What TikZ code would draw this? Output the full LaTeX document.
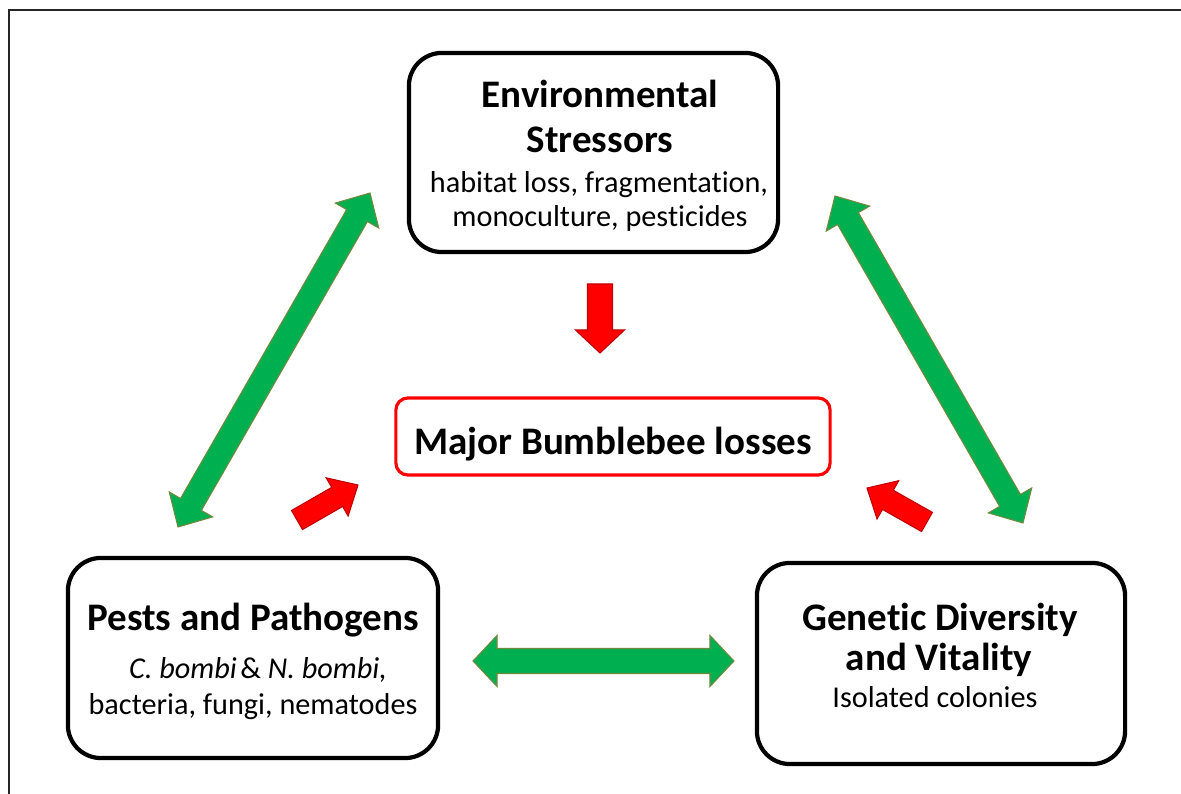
\documentclass[tikz,border=0pt]{standalone}
\usepackage{fontspec}
\setmainfont{Carlito}[Ligatures={NoCommon}]
\usetikzlibrary{calc}
\definecolor{pgreen}{HTML}{00B050}
\definecolor{pgreenline}{HTML}{71893F}
\definecolor{pred}{HTML}{FF0000}
\definecolor{predline}{HTML}{C00000}
% #1 style, #2 tip A, #3 tip B, #4 shaft half width, #5 head half width, #6 head length
\newcommand\dblarrow[6]{%
  \filldraw[#1] (#2)
   -- ($(#2)!#6!(#3)!#5!90:(#3)$)
   -- ($(#2)!#6!(#3)!#4!90:(#3)$)
   -- ($(#3)!#6!(#2)!#4!90:(#3)$)
   -- ($(#3)!#6!(#2)!#5!90:(#3)$)
   -- (#3)
   -- ($(#3)!#6!(#2)!#5!-90:(#3)$)
   -- ($(#3)!#6!(#2)!#4!-90:(#3)$)
   -- ($(#2)!#6!(#3)!#4!-90:(#3)$)
   -- ($(#2)!#6!(#3)!#5!-90:(#3)$)
   -- cycle;}
% #1 style, #2 tail, #3 tip, #4 shaft half width, #5 head half width, #6 head length
\newcommand\sglarrow[6]{%
  \filldraw[#1] ($(#2)!#4!90:(#3)$)
   -- ($(#3)!#6!(#2)!#4!90:(#3)$)
   -- ($(#3)!#6!(#2)!#5!90:(#3)$)
   -- (#3)
   -- ($(#3)!#6!(#2)!#5!-90:(#3)$)
   -- ($(#3)!#6!(#2)!#4!-90:(#3)$)
   -- ($(#2)!#4!-90:(#3)$)
   -- cycle;}
\tikzset{
  box/.style={draw=black, line width=1.2pt, rounded corners=0.33cm, fill=white,
              inner sep=0pt, outer sep=0pt},
  mainbox/.style={draw=pred, line width=0.9pt, rounded corners=0.12cm, fill=white,
              inner sep=0pt, outer sep=0pt},
  ttl/.style={anchor=base, inner sep=0pt, font=\fontsize{11.1pt}{13pt}\selectfont\bfseries},
  sub/.style={anchor=base, inner sep=0pt, font=\fontsize{8.6pt}{10pt}\selectfont},
  garrow/.style={fill=pgreen, draw=pgreenline, line width=0.3pt},
  rarrow/.style={fill=pred, draw=predline, line width=0.3pt},
}
\begin{document}
\begin{tikzpicture}[x=0.01cm, y=-0.01cm]
\useasboundingbox (0,0) rectangle (1181,794);
\draw[line width=0.6pt, black!85] (1200,10) -- (9,10) -- (9,810);

% boxes
\node[box, minimum width=3.69cm, minimum height=1.99cm] (env) at (593.5,152.5) {};
\node[box, minimum width=3.70cm, minimum height=2.00cm] (pests) at (253,658) {};
\node[box, minimum width=3.68cm, minimum height=2.01cm] (gen) at (941,663.5) {};
\node[mainbox, minimum width=4.34cm, minimum height=0.77cm] (major) at (613,436.5) {};

% texts
\node[ttl] (env1) at (600,108) {Environmental};
\node[ttl] (env2) at (600,153) {Stressors};
\node[sub] (env3) at (599,193) {habitat loss, fragmentation,};
\node[sub] (env4) at (600,227) {monoculture, pesticides};

\node[ttl] (pests1) at (253,630) {Pests and Pathogens};
\node[sub] (pests2) at (258,678) {\textit{C. bombi}\kern1pt\& \textit{N. bombi,}};
\node[sub] (pests3) at (253,715) {bacteria, fungi, nematodes};

\node[ttl] (gen1) at (940,630) {Genetic Diversity};
\node[ttl] (gen2) at (939,670) {and Vitality};
\node[sub] (gen3) at (935,708) {Isolated colonies};

\node[ttl] (major1) at (613,455) {Major Bumblebee losses};

% arrow end points
\coordinate (gla) at (370,193);
\coordinate (glb) at (178,527);
\coordinate (gra) at (835,196);
\coordinate (grb) at (1023,523);
\coordinate (gha) at (473,661);
\coordinate (ghb) at (734,661);
\coordinate (rdt) at (600,284);
\coordinate (rdh) at (600,353);
\coordinate (rlt) at (297,520);
\coordinate (rlh) at (358,485);
\coordinate (rrt) at (927,522);
\coordinate (rrh) at (867,488);

% green double arrows
\dblarrow{garrow}{gla}{glb}{0.12cm}{0.25cm}{0.26cm}
\dblarrow{garrow}{gra}{grb}{0.12cm}{0.25cm}{0.26cm}
\dblarrow{garrow}{gha}{ghb}{0.125cm}{0.255cm}{0.24cm}

% red arrows
\sglarrow{rarrow}{rdt}{rdh}{0.125cm}{0.245cm}{0.23cm}
\sglarrow{rarrow}{rlt}{rlh}{0.11cm}{0.22cm}{0.24cm}
\sglarrow{rarrow}{rrt}{rrh}{0.11cm}{0.22cm}{0.24cm}
\end{tikzpicture}
\end{document}
